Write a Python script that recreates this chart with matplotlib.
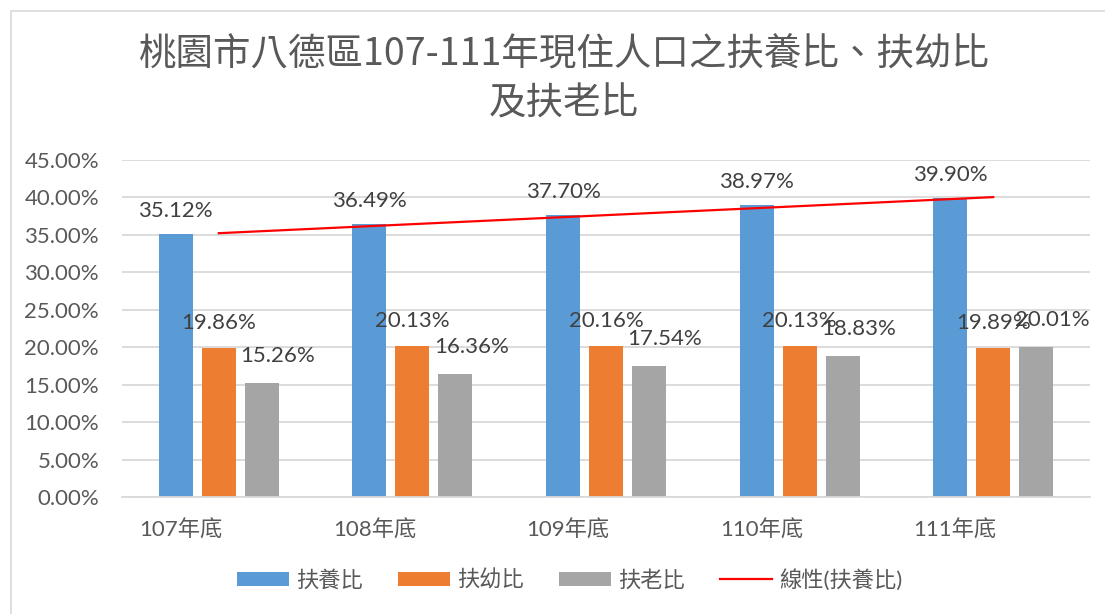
import numpy as np
import matplotlib
matplotlib.use("Agg")
import matplotlib.pyplot as plt
from matplotlib.patches import Rectangle, Patch
from matplotlib.lines import Line2D

categories = ["107年底", "108年底", "109年底", "110年底", "111年底"]
dependency = [35.12, 36.49, 37.70, 38.97, 39.90]
youth = [19.86, 20.13, 20.16, 20.13, 19.89]
elderly = [15.26, 16.36, 17.54, 18.83, 20.01]
series_names = ["扶養比", "扶幼比", "扶老比"]
trend_name = "線性(扶養比)"
title_lines = ["桃園市八德區107-111年現住人口之扶養比、扶幼比", "及扶老比"]
yticks = [0, 5, 10, 15, 20, 25, 30, 35, 40, 45]

colors = ["#5B9BD5", "#ED7D31", "#A5A5A5"]
text_color = "#595959"
FONT = ["Lato", "Noto Sans CJK TC", "DejaVu Sans"]
plt.rcParams["font.family"] = FONT

W, H = 1105, 614
fig = plt.figure(figsize=(W / 100, H / 100), dpi=100)
fig.patches.append(Rectangle((11 / W, -0.1), 1.2, 1 - 11 / H + 0.1, transform=fig.transFigure,
                             fill=False, edgecolor="#D9D9D9", linewidth=1.2))

ax = fig.add_axes([122 / W, 1 - 497 / H, (1090 - 122) / W, (497 - 160) / H])
x = np.arange(len(categories))
bw = 0.176
offs = [-0.222, 0.0, 0.222]
data = [dependency, youth, elderly]
label_off = [(0, 23), (0, 25), (16, 27)]
fs = 16
for i, vals in enumerate(data):
    ax.bar(x + offs[i], vals, width=bw, color=colors[i], zorder=2)
    for xi, v in zip(x, vals):
        ax.annotate(f"{v:.2f}%", (xi + offs[i], v), xytext=label_off[i], textcoords="offset pixels",
                    ha="center", va="center", fontsize=fs, color="#404040", zorder=4)

coef = np.polyfit(x + 1, dependency, 1)
xt = np.array([x[0], x[-1]])
ax.plot(xt, np.polyval(coef, xt + 1), color="#FF0000", linewidth=1.6, zorder=3)

ax.set_xlim(-0.5, len(categories) - 0.5)
ax.set_ylim(0, 45)
ax.set_yticks(yticks)
ax.set_yticklabels([f"{t:.2f}%" for t in yticks], fontsize=fs, color=text_color)
ax.tick_params(axis="y", length=0, pad=16.5)
ax.set_xticks([])
for xi, c in zip(x, categories):
    ax.annotate(c, (xi, 0), xycoords=("data", "axes fraction"), xytext=(-38, -33),
                textcoords="offset pixels", ha="center", va="center", fontsize=fs, color=text_color)
ax.grid(axis="y", color="#D9D9D9", linewidth=1.3, zorder=0)
ax.set_axisbelow(True)
for s in ["top", "right", "left"]:
    ax.spines[s].set_visible(False)
ax.spines["bottom"].set_color("#D9D9D9")
ax.spines["bottom"].set_linewidth(1.3)

handles = [Patch(facecolor=c) for c in colors] + [Line2D([], [], color="#FF0000", linewidth=1.6)]
fig.legend(handles, series_names + [trend_name], loc="center", bbox_to_anchor=(570 / W, 1 - 580 / H),
           ncol=4, frameon=False, fontsize=fs, labelcolor=text_color, handlelength=2.34,
           handleheight=0.63, handletextpad=0.32, columnspacing=1.58)

fig.text(564 / W, 1 - 55 / H, title_lines[0], ha="center", va="center", fontsize=27,
         color=text_color, family=["Noto Sans CJK TC", "DejaVu Sans"], fontweight="light")
fig.text(564 / W, 1 - 104 / H, title_lines[1], ha="center", va="center", fontsize=27,
         color=text_color, family=["Noto Sans CJK TC", "DejaVu Sans"], fontweight="light")

fig.savefig("out.png", dpi=100)
